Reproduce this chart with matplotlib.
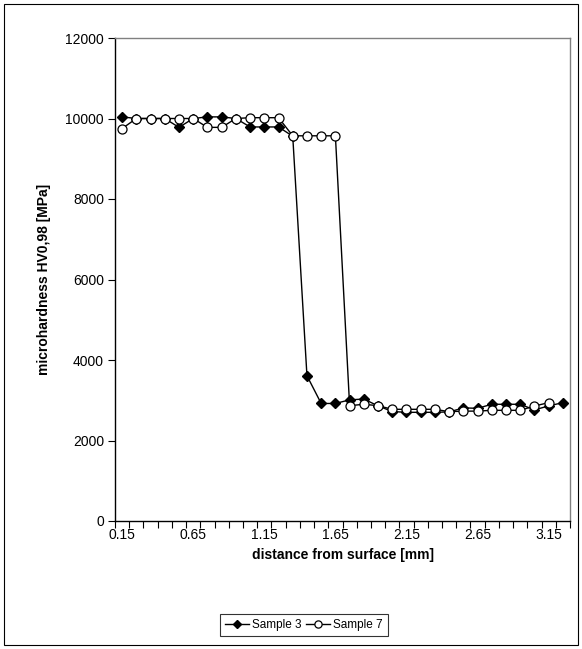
import matplotlib
matplotlib.use("Agg")
import matplotlib.pyplot as plt
import numpy as np
from matplotlib.patches import Rectangle

plt.rcParams['font.family'] = ['Liberation Sans', 'DejaVu Sans']

distance = ["0.15", "0.25", "0.35", "0.45", "0.55", "0.65", "0.75", "0.85", "0.95", "1.05",
            "1.15", "1.25", "1.35", "1.45", "1.55", "1.65", "1.75", "1.85", "1.95", "2.05",
            "2.15", "2.25", "2.35", "2.45", "2.55", "2.65", "2.75", "2.85", "2.95", "3.05",
            "3.15", "3.25"]
sample3 = [10040, 10000, 10000, 10000, 9780, 10000, 10040, 10040, 10000, 9790,
           9790, 9790, 9560, 3610, 2920, 2920, 3010, 3030, 2860, 2720,
           2700, 2700, 2700, 2710, 2810, 2800, 2900, 2900, 2900, 2760,
           2860, 2940]
sample7 = [9750, 10000, 10000, 10000, 10000, 10000, 9780, 9780, 10000, 10020,
           10020, 10020, 9570, 9570, 9570, 9570, 2865, 2900, 2865, 2775,
           2775, 2775, 2775, 2716, 2730, 2730, 2750, 2750, 2750, 2857,
           2940]
label_every = 5
yticks = [0, 2000, 4000, 6000, 8000, 10000, 12000]

fig = plt.figure(figsize=(5.82, 6.49), dpi=100)
ax = fig.add_axes([115/582, 1-521/649, (570-115)/582, (521-38)/649])

x3 = np.arange(len(sample3))
x7 = np.arange(len(sample7))
ax.plot(x3, sample3, color='black', lw=1.0, marker='D', markersize=5,
        markerfacecolor='black', markeredgecolor='black', label='Sample 3')
ax.plot(x7, sample7, color='black', lw=1.0, marker='o', markersize=6.5,
        markerfacecolor='white', markeredgecolor='black', markeredgewidth=0.9,
        label='Sample 7')

n = len(distance)
ax.set_xlim(-0.5, n - 0.5)
ax.set_ylim(0, 12000)
ax.set_yticks(yticks)
ax.set_yticklabels([str(v) for v in yticks])
major = list(range(0, n, label_every))
ax.set_xticks(major)
ax.set_xticklabels([distance[i] for i in major])
ax.set_xticks(np.arange(-0.5, n, 1.0), minor=True)
ax.tick_params(axis='x', which='major', length=0, pad=5, labelsize=10)
ax.tick_params(axis='x', which='minor', length=5, width=0.8, direction='out')
ax.tick_params(axis='y', which='major', length=5, width=0.8, direction='out', pad=3, labelsize=10)

for s in ['left', 'bottom']:
    ax.spines[s].set_color('black')
    ax.spines[s].set_linewidth(1.0)
for s in ['top', 'right']:
    ax.spines[s].set_color('#808080')
    ax.spines[s].set_linewidth(1.0)

ax.set_xlabel('distance from surface [mm]', fontsize=10, fontweight='bold', labelpad=4)
ax.set_ylabel('microhardness HV0,98 [MPa]', fontsize=10, fontweight='bold', labelpad=10)

leg = fig.legend(loc='center', bbox_to_anchor=(304/582, 1-625/649), ncol=2,
                 frameon=True, fancybox=False, edgecolor='black', fontsize=8.5,
                 handlelength=2.0, handletextpad=0.3, columnspacing=0.4,
                 borderpad=0.45, markerscale=0.8)
leg.get_frame().set_linewidth(0.8)

fig.patches.append(Rectangle((4/582, 4/649), 574/582, 641/649, transform=fig.transFigure,
                             fill=False, edgecolor='black', linewidth=0.8))

fig.savefig('out.png', dpi=100)
